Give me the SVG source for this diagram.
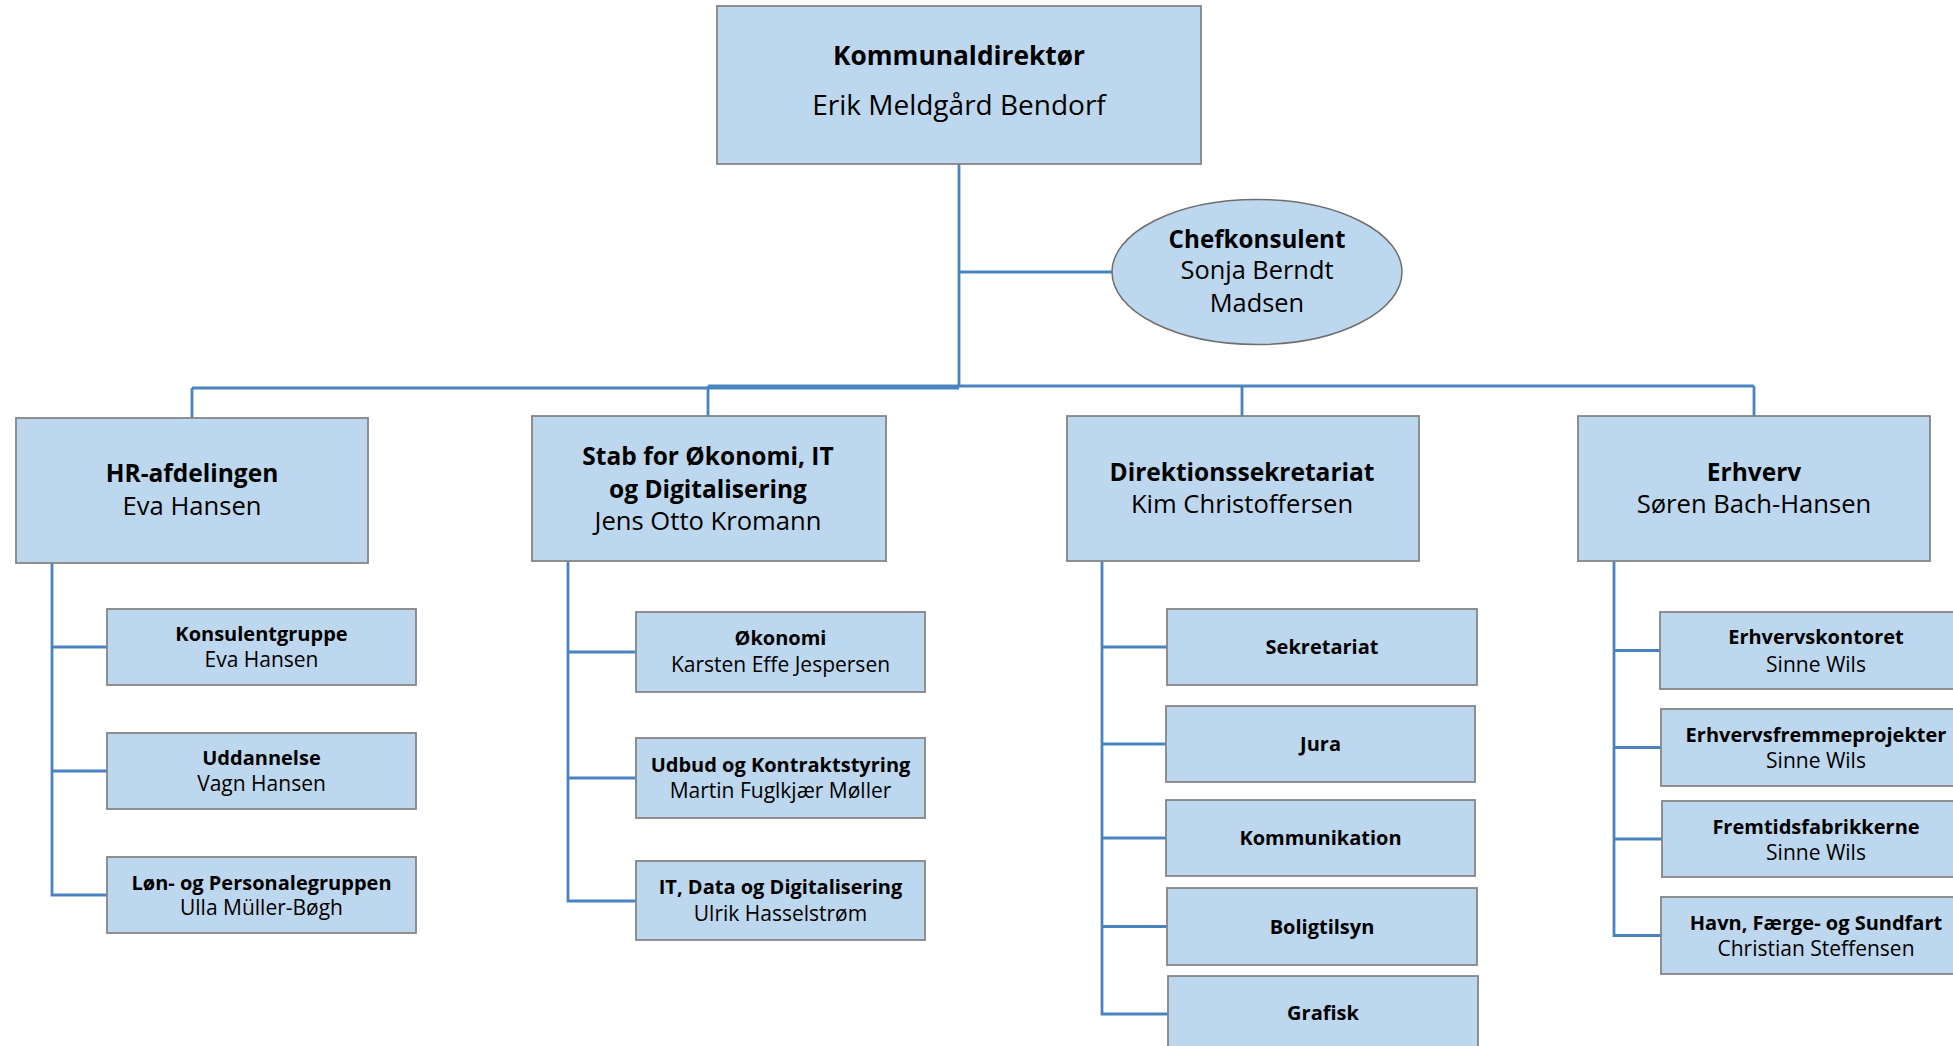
<svg xmlns="http://www.w3.org/2000/svg" width="1953" height="1046" viewBox="0 0 1953 1046">
<style>
.box{fill:#BDD7EE;stroke:#858585;stroke-width:1.8}
.ell{fill:#BDD7EE;stroke:#6F6F6F;stroke-width:1.5}
.con{fill:none;stroke:#4A84C0;stroke-width:2.8}
text{font-family:"Open Sans","Noto Sans","DejaVu Sans",sans-serif;fill:#000;text-anchor:middle}
.t1b{font-size:26.3px;font-weight:bold}
.t1{font-size:28px}
.t2b{font-size:24.5px;font-weight:bold}
.t2{font-size:25.6px}
.teb{font-size:24.2px;font-weight:bold}
.te{font-size:25.4px}
.t3b{font-size:20px;font-weight:bold}
.t3{font-size:21px}
</style>
<rect width="1953" height="1046" fill="#FFFFFF"/>
<g id="connectors">
<path class="con" d="M959 164 V387"/>
<path class="con" d="M959 272 H1112"/>
<path class="con" d="M192 388 H959"/>
<path class="con" d="M708 386 H1754"/>
<path class="con" d="M192 388 V418"/>
<path class="con" d="M708 386 V416"/>
<path class="con" d="M1242 386 V416"/>
<path class="con" d="M1754 386 V416"/>
<path class="con" d="M52 563 V895 H107 M52 647 H107 M52 771 H107"/>
<path class="con" d="M568 561 V901 H636 M568 652 H636 M568 778 H636"/>
<path class="con" d="M1102 561 V1014 H1168 M1102 647 H1167 M1102 744 H1166 M1102 838 H1166 M1102 926.5 H1167"/>
<path class="con" d="M1614 561 V935.5 H1661 M1614 650.5 H1660 M1614 747.5 H1661 M1614 839 H1662"/>
</g>
<g id="kommunaldirektor">
<rect class="box" x="717" y="6" width="484" height="158"/>
<text class="t1b" x="959" y="65">Kommunaldirektør</text>
<text class="t1" x="959" y="115">Erik Meldgård Bendorf</text>
</g>
<g id="chefkonsulent">
<ellipse class="ell" cx="1257" cy="272" rx="145" ry="72.5"/>
<text class="teb" x="1257" y="248">Chefkonsulent</text>
<text class="te" x="1257" y="279">Sonja Berndt</text>
<text class="te" x="1257" y="312">Madsen</text>
</g>
<g id="hr">
<rect class="box" x="16" y="418" width="352" height="145"/>
<text class="t2b" x="192" y="482">HR-afdelingen</text>
<text class="t2" x="192" y="515">Eva Hansen</text>
</g>
<g id="stab">
<rect class="box" x="532" y="416" width="354" height="145"/>
<text class="t2b" x="708" y="465">Stab for Økonomi, IT</text>
<text class="t2b" x="708" y="497.5">og Digitalisering</text>
<text class="t2" x="708" y="530">Jens Otto Kromann</text>
</g>
<g id="direktion">
<rect class="box" x="1067" y="416" width="352" height="145"/>
<text class="t2b" x="1242" y="481">Direktionssekretariat</text>
<text class="t2" x="1242" y="513">Kim Christoffersen</text>
</g>
<g id="erhverv">
<rect class="box" x="1578" y="416" width="352" height="145"/>
<text class="t2b" x="1754" y="481">Erhverv</text>
<text class="t2" x="1754" y="513">Søren Bach-Hansen</text>
</g>
<g id="konsulentgruppe">
<rect class="box" x="107" y="609" width="309" height="76"/>
<text class="t3b" x="261.5" y="641">Konsulentgruppe</text>
<text class="t3" x="261.5" y="667">Eva Hansen</text>
</g>
<g id="uddannelse">
<rect class="box" x="107" y="733" width="309" height="76"/>
<text class="t3b" x="261.5" y="765">Uddannelse</text>
<text class="t3" x="261.5" y="791">Vagn Hansen</text>
</g>
<g id="lon">
<rect class="box" x="107" y="857" width="309" height="76"/>
<text class="t3b" x="261.5" y="889.5">Løn- og Personalegruppen</text>
<text class="t3" x="261.5" y="914.5">Ulla Müller-Bøgh</text>
</g>
<g id="okonomi">
<rect class="box" x="636" y="612" width="289" height="80"/>
<text class="t3b" x="780.5" y="645">Økonomi</text>
<text class="t3" x="780.5" y="672">Karsten Effe Jespersen</text>
</g>
<g id="udbud">
<rect class="box" x="636" y="738" width="289" height="80"/>
<text class="t3b" x="780.5" y="771.5">Udbud og Kontraktstyring</text>
<text class="t3" x="780.5" y="798">Martin Fuglkjær Møller</text>
</g>
<g id="it">
<rect class="box" x="636" y="861" width="289" height="79"/>
<text class="t3b" x="780.5" y="894">IT, Data og Digitalisering</text>
<text class="t3" x="780.5" y="921">Ulrik Hasselstrøm</text>
</g>
<g id="sekretariat">
<rect class="box" x="1167" y="609" width="310" height="76"/>
<text class="t3b" x="1322" y="654">Sekretariat</text>
</g>
<g id="jura">
<rect class="box" x="1166" y="706" width="309" height="76"/>
<text class="t3b" x="1320.5" y="751">Jura</text>
</g>
<g id="kommunikation">
<rect class="box" x="1166" y="800" width="309" height="76"/>
<text class="t3b" x="1320.5" y="845">Kommunikation</text>
</g>
<g id="boligtilsyn">
<rect class="box" x="1167" y="888" width="310" height="77"/>
<text class="t3b" x="1322" y="933.5">Boligtilsyn</text>
</g>
<g id="grafisk">
<rect class="box" x="1168" y="976" width="310" height="80"/>
<text class="t3b" x="1323" y="1020">Grafisk</text>
</g>
<g id="erhvervskontoret">
<rect class="box" x="1660" y="612" width="312" height="77"/>
<text class="t3b" x="1816" y="644">Erhvervskontoret</text>
<text class="t3" x="1816" y="671.5">Sinne Wils</text>
</g>
<g id="erhvervsfremme">
<rect class="box" x="1661" y="709" width="312" height="77"/>
<text class="t3b" x="1816" y="742">Erhvervsfremmeprojekter</text>
<text class="t3" x="1816" y="768">Sinne Wils</text>
</g>
<g id="fremtidsfabrikkerne">
<rect class="box" x="1662" y="801" width="312" height="76"/>
<text class="t3b" x="1816" y="834">Fremtidsfabrikkerne</text>
<text class="t3" x="1816" y="860">Sinne Wils</text>
</g>
<g id="havn">
<rect class="box" x="1661" y="897" width="312" height="77"/>
<text class="t3b" x="1816" y="929.5">Havn, Færge- og Sundfart</text>
<text class="t3" x="1816" y="955.5">Christian Steffensen</text>
</g>
</svg>
